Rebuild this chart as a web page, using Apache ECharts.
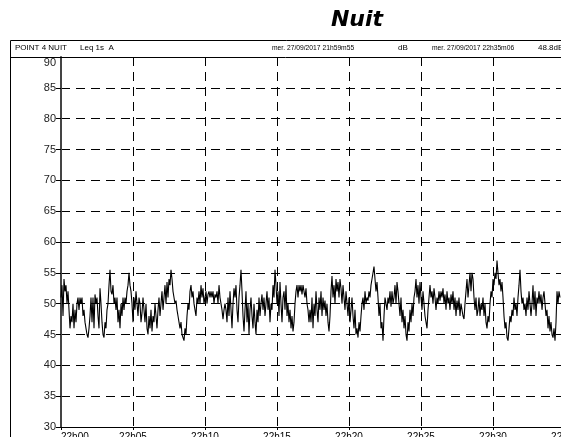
<!DOCTYPE html>
<html>
<head>
<meta charset="utf-8">
<title>Nuit</title>
<script src="https://cdn.jsdelivr.net/npm/echarts@6/dist/echarts.min.js"></script>
<style>
  html, body { margin: 0; padding: 0; background: #fff; }
  #chart { width: 561px; height: 437px; }
</style>
</head>
<body>
<div id="chart"></div>
<script>
// Leq 1s (dB(A)) night-time trace, resampled, from 22h00 onwards.
const levelsPart1 = [51,53,48,54,52,53,50,52,49,46,48,47,50,46,49,47,50,51,49,51,50,51,48,49,47,46,45,44.5,46,48,51,47,51,46,51.5,50,51,48,46,52.5,50,47,45,44.5,47,46,49,50,53,55.5,52,51.5,53,50,51,49,51,47,49,46,50,48,51,49,51,50,52,53,55,53,52,50,47,51,49,52,50,48,51,50,47];
const levelsPart2 = [48.5,51,49,47,50,46,45,48,46,49,45.5,48,47,50,48,46,49,51,48,50,52,49,51,53,50,53.5,51,54,53,55.5,54,52,51,50,50.5,49,48,47,46,47,45,44.5,44,46,45,48,50,49,52,53,51,52,50,49,48,51,50,52,50,53,51,52.5,50,51,52,50,51.5,52,51,52,51,52,50,51.5,51,52,50,53,51,50,49,47.5,49,50];
const levelsPart3 = [49,47,51,48,52,49,46,50,52.5,51,53,49,47,51,53,55.5,52,48,45.5,49,52,47,50,45,49,51,48,46,50,47,45,49,47,51,48,50,51.5,49,51,48,50,52,49,51,47,50,49,53,51,55.5,53,50,52,48,53.5,50,47,51,52,49,53,48,50,47,49,46,48,45.5,47,50,52,53,51,53,52,53,51.5,53,52,51,52.5,50,49,47];
const levelsPart4 = [49,47,51,46,50,48,52,49,47,51,49,52,48,51,49,50.5,48,50,47,45.5,48,52,54.5,51,53,50,54,52,53.5,51,54,52.5,50,53,51,49,52,50,48,51,47,49,51,48,46,49,45,46,44.5,47,45.5,48,50,51,49,52,50,51,50.5,52,51,53,54,55,56,54,52,53.5,51,48,50,46,47,44,48,51,50,49,51,50,52,49.5,52,50];
const levelsPart5 = [51,53,50,53.5,52,50,48,51,47,49,46,48,45,44,47,45.5,49,47,50,48,51,52,54,51,53,50,53.5,51,49,52,50,48,47,46,49,51,53,51,52,50,52.5,51,49,51,50,52,50.5,52,51,52.5,50,51.5,49,52,50,51,49,51.5,50,52,49,51,48,50.5,49,51,48,50,49,48,47.5,50,52,54,51,53,55,52,55,54,51,49,51,48];
const levelsPart6 = [49,51,48,50,49,51,48,50,47,46,48,47,50,52,51,54,53,55,54,57,55,53,54,52,53.5,51,48,46,47,44.5,44,46,48,47,49,48,51,49,50,48,51,53,55.5,52,50,51,49,50,48,51,49,52,50,48,50,53,49,52,48,51,50,52,50,51.5,49,51,52,50,48,49,46,48,45.5,47,45,44.5,46,44,47,52,50,52,51];

// Time axis (seconds after 22h00) and its tick labels
const tickLabels = ['22h00','22h05','22h10','22h15','22h20','22h25','22h30','22h35'];
const axisEndSeconds = 35 * 60 + 6;      // 22h35m06
const sampleSeconds = 300 / 72;          // one resampled point per screen pixel

// Level axis
const levelMin = 30, levelMax = 90, levelStep = 5;

// Header strip texts
const headerLeft = ['POINT 4 NUIT', 'Leq 1s  A'];
const headerRight = ['mer. 27/09/2017 21h59m55', 'dB', 'mer. 27/09/2017 22h35m06', '48.8dB'];

const levels = [].concat(levelsPart1, levelsPart2, levelsPart3, levelsPart4, levelsPart5, levelsPart6);
const seriesData = levels.map((v, i) => [i * sampleSeconds, v]);

const font = 'Liberation Sans, Arial, sans-serif';
const chart = echarts.init(document.getElementById('chart'), null, { renderer: 'canvas' });

const pxPerSecond = 72 / 300;
const gridLeft = 61;
const gridRight = 561 - gridLeft - axisEndSeconds * pxPerSecond;   // plot runs past the right edge

function headerText(text, x, scaleX) {
  return {
    type: 'text', x: x, y: 44, scaleX: scaleX || 1,
    style: { text: text, fontFamily: font, fontSize: 8, fill: '#000' }
  };
}

chart.setOption({
  animation: false,
  backgroundColor: '#fff',
  title: {
    text: 'Nuit',
    left: 352,
    top: 4,
    textAlign: 'center',
    textStyle: { fontFamily: 'DejaVu Sans, Verdana, sans-serif', fontSize: 22, fontWeight: 'bold', fontStyle: 'italic', color: '#000' }
  },
  graphic: [
    // outer frame and header strip
    { type: 'rect', shape: { x: 10.5, y: 40.5, width: 600, height: 450 }, style: { fill: 'none', stroke: '#000', lineWidth: 1 }, z: 1 },
    { type: 'line', shape: { x1: 10, y1: 57.5, x2: 561, y2: 57.5 }, style: { stroke: '#000', lineWidth: 1 }, z: 10 },
    headerText(headerLeft[0], 15),
    headerText(headerLeft[1], 80),
    headerText(headerRight[0], 272, 0.84),
    headerText(headerRight[1], 398),
    headerText(headerRight[2], 432, 0.84),
    headerText(headerRight[3], 538)
  ],
  grid: { left: gridLeft, top: 57, right: gridRight, bottom: 10, containLabel: false, outerBoundsMode: 'none' },
  xAxis: {
    type: 'value',
    min: 0,
    max: axisEndSeconds,
    interval: 300,
    axisLine: { lineStyle: { color: '#000', width: 1 } },
    axisTick: { length: 3, lineStyle: { color: '#000' } },
    axisLabel: {
      margin: 5,
      fontFamily: font,
      fontSize: 10,
      color: '#000',
      alignMinLabel: 'left',
      hideOverlap: false,
      formatter: v => tickLabels[Math.round(v / 300)] || ''
    },
    splitLine: { show: true, lineStyle: { color: '#000', type: [9, 6], width: 1 } }
  },
  yAxis: {
    type: 'value',
    min: levelMin,
    max: levelMax,
    interval: levelStep,
    axisLine: { show: true, lineStyle: { color: '#444', width: 2 } },
    axisTick: { show: true, length: 5, lineStyle: { color: '#000' } },
    axisLabel: { margin: 5, fontFamily: font, fontSize: 11, color: '#222', verticalAlignMaxLabel: 'top' },
    splitLine: { show: true, lineStyle: { color: '#000', type: [9, 6], width: 1 } }
  },
  series: [{
    type: 'line',
    data: seriesData,
    showSymbol: false,
    symbol: 'none',
    lineStyle: { color: '#000', width: 1.1 },
    clip: true,
    z: 5
  }]
});
</script>
</body>
</html>
